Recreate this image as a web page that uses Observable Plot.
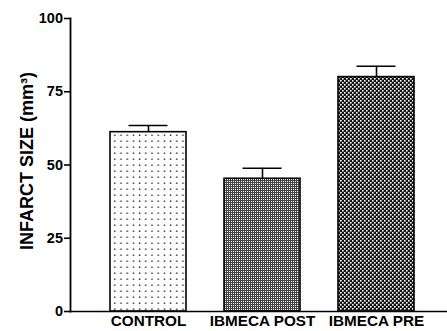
<!DOCTYPE html>
<html>
<head>
<meta charset="utf-8">
<script src="https://cdn.jsdelivr.net/npm/d3@7"></script>
<script src="https://cdn.jsdelivr.net/npm/@observablehq/plot@0.6"></script>
<style>
  body { margin: 0; background: #fff; }
  svg { font-family: "Liberation Sans", Arial, sans-serif; }
</style>
</head>
<body>
<div id="chart"></div>
<script>
const categories = ["CONTROL", "IBMECA POST", "IBMECA PRE"];
const means = [61.2, 45.3, 80.0];
const errors = [2.3, 3.6, 3.7];
const patterns = ["url(#patDots)", "url(#patGrid)", "url(#patCheck)"];
const yTicks = [0, 25, 50, 75, 100];
const yLabel = "INFARCT SIZE (mm³)";

const data = categories.map((c, i) => ({cat: c, v: means[i], e: means[i] + errors[i], p: patterns[i]}));

const plot = Plot.plot({
  width: 447,
  height: 331,
  marginLeft: 70,
  marginRight: 0,
  marginTop: 18,
  marginBottom: 20,
  style: {fontFamily: '"Liberation Sans", Arial, sans-serif', background: "#fff", color: "#000"},
  x: {domain: categories, range: [110, 415], paddingInner: 0.33, paddingOuter: 0, label: null},
  y: {domain: [0, 100], label: null},
  color: {type: "identity"},
  marks: [
    Plot.ruleX(data, {x: "cat", y1: "v", y2: "e", stroke: "#000", strokeWidth: 1.6}),
    Plot.tickY(data, {x: "cat", y: "e", stroke: "#000", strokeWidth: 1.6, insetLeft: 18.5, insetRight: 18.5}),
    Plot.barY(data, {x: "cat", y: "v", fill: "p", stroke: "#000", strokeWidth: 1.6}),
    Plot.ruleY([0], {stroke: "#000", strokeWidth: 1.6}),
    Plot.frame({anchor: "left", stroke: "#000", strokeWidth: 1.8}),
    Plot.axisY({ticks: yTicks, tickSize: 6, tickPadding: 1.5, label: null, fontSize: 14.5, fontWeight: "bold", strokeWidth: 1.6}),
    Plot.axisX({tickSize: 0, tickPadding: 4, label: null, fontSize: 15.3, fontWeight: "bold"}),
    Plot.text([yLabel], {text: d => d, frameAnchor: "left", textAnchor: "middle", dx: -43, dy: -4, rotate: -90, fontSize: 18, fontWeight: "bold", fill: "#000"})
  ]
});

const ns = "http://www.w3.org/2000/svg";
const defs = document.createElementNS(ns, "defs");
defs.innerHTML = `
  <pattern id="patDots" width="6.2" height="6" patternUnits="userSpaceOnUse">
    <rect width="6.2" height="6" fill="#fff"/>
    <rect x="2.5" y="2.5" width="1.4" height="1.4" fill="#222"/>
  </pattern>
  <pattern id="patGrid" width="2" height="2" patternUnits="userSpaceOnUse">
    <rect width="2" height="2" fill="#444"/>
    <rect x="1" y="1" width="1" height="1" fill="#fff"/>
  </pattern>
  <pattern id="patCheck" width="4" height="4" patternUnits="userSpaceOnUse">
    <rect width="4" height="4" fill="#111"/>
    <rect x="0" y="0" width="1.6" height="1.6" fill="#fff"/>
    <rect x="2" y="2" width="1.6" height="1.6" fill="#fff"/>
  </pattern>`;
plot.insertBefore(defs, plot.firstChild);
document.getElementById("chart").appendChild(plot);
</script>
</body>
</html>
